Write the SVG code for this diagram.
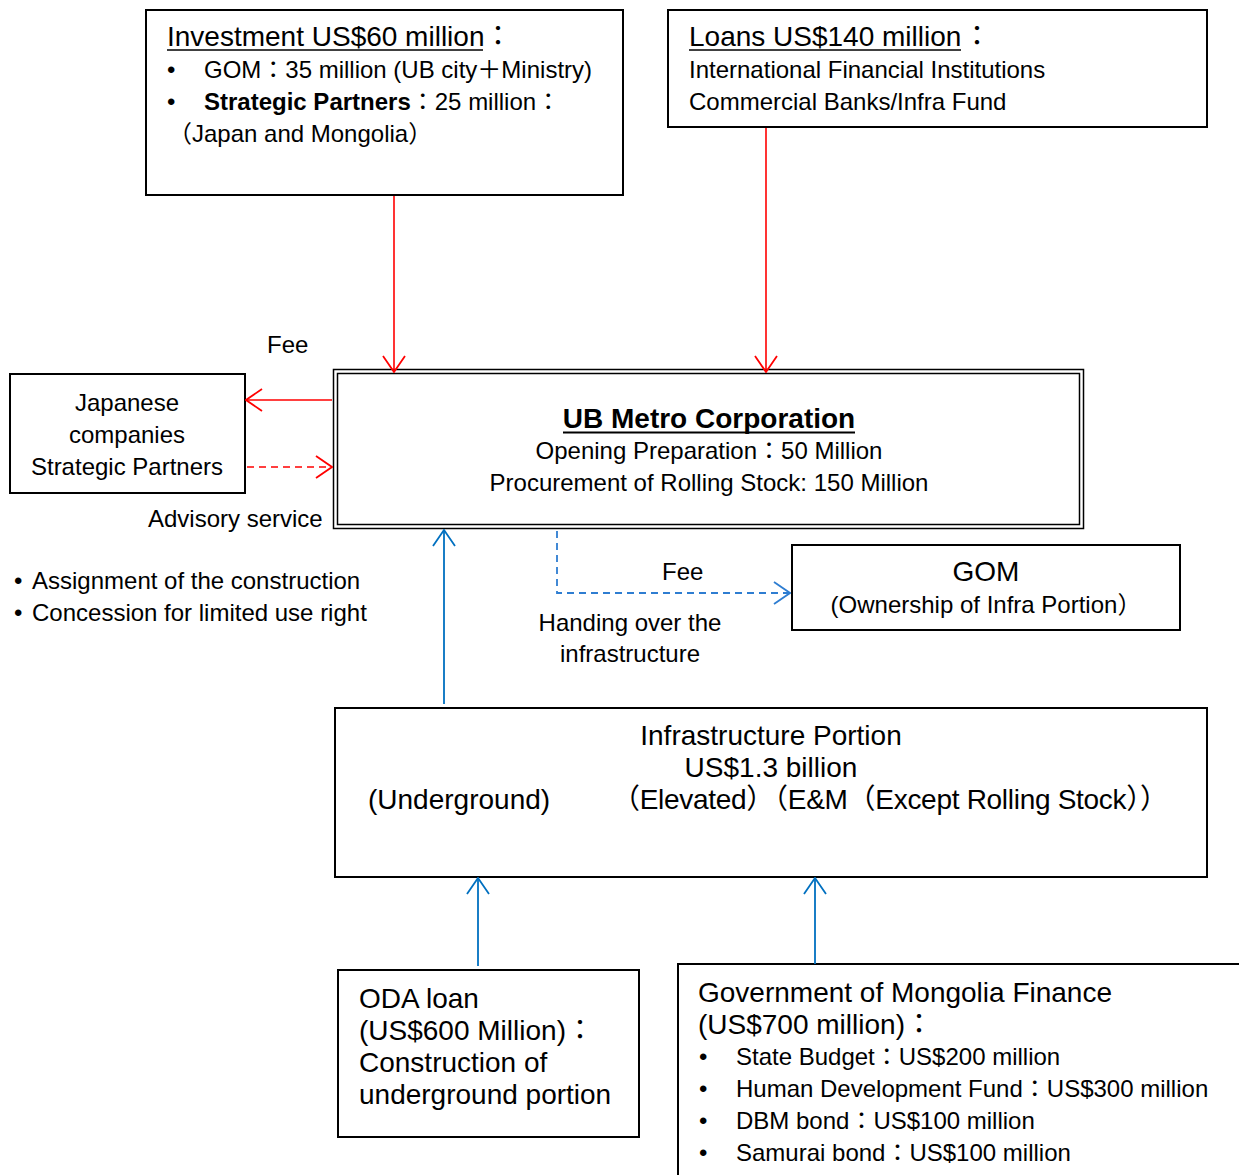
<svg xmlns="http://www.w3.org/2000/svg" width="1239" height="1175" viewBox="0 0 1239 1175">
<style>
text { font-family: "Liberation Sans", "Noto Sans CJK JP", sans-serif; fill: #000; }
.t24 { font-size: 24px; }
.t28 { font-size: 28px; }
.b { font-weight: bold; }
.mid { text-anchor: middle; }
.box { fill: #fff; stroke: #000; stroke-width: 2; }
.dbl { fill: none; stroke: #000; stroke-width: 1.5; }
.ul { stroke: #000; stroke-width: 1.6; }
.red { stroke: #ff0000; stroke-width: 1.6; fill: none; }
.blue { stroke: #0070c0; stroke-width: 1.8; fill: none; }
.bdash { stroke: #2e7dd1; stroke-width: 1.8; fill: none; stroke-dasharray: 7 5; }
.rdash { stroke: #ff0000; stroke-width: 1.6; fill: none; stroke-dasharray: 7 5; }
</style>
<defs>
<marker id="ar" viewBox="0 0 18 24" refX="17" refY="12" markerWidth="18" markerHeight="24" markerUnits="userSpaceOnUse" orient="auto">
<path d="M1,1 L17,12 L1,23" fill="none" stroke="#ff0000" stroke-width="1.8"/>
</marker>
<marker id="ab" viewBox="0 0 18 24" refX="17" refY="12" markerWidth="18" markerHeight="24" markerUnits="userSpaceOnUse" orient="auto">
<path d="M1,1 L17,12 L1,23" fill="none" stroke="#0070c0" stroke-width="1.8"/>
</marker>
<marker id="abd" viewBox="0 0 18 24" refX="17" refY="12" markerWidth="18" markerHeight="24" markerUnits="userSpaceOnUse" orient="auto">
<path d="M1,1 L17,12 L1,23" fill="none" stroke="#2e7dd1" stroke-width="1.8"/>
</marker>
</defs>
<rect width="1239" height="1175" fill="#fff"/>

<g id="investment">
<rect class="box" x="146" y="10" width="477" height="185"/>
<text class="t28" x="167" y="46">Investment US$60 million<tspan x="484">：</tspan></text>
<line class="ul" x1="167" y1="50" x2="483" y2="50"/>
<text class="t24" x="167" y="78">•<tspan x="204">GOM：35 million (UB city＋Ministry)</tspan></text>
<text class="t24" x="167" y="110">•<tspan x="204" class="b">Strategic Partners</tspan>：25 million：</text>
<text class="t24" x="168" y="142">（Japan and Mongolia）</text>
</g>

<g id="loans">
<rect class="box" x="668" y="10" width="539" height="117"/>
<text class="t28" x="689" y="46">Loans US$140 million<tspan x="963">：</tspan></text>
<line class="ul" x1="689" y1="50" x2="961" y2="50"/>
<text class="t24" x="689" y="78">International Financial Institutions</text>
<text class="t24" x="689" y="110">Commercial Banks/Infra Fund</text>
</g>

<g id="japanese">
<rect class="box" x="10" y="374" width="235" height="119"/>
<text class="t24 mid" x="127" y="411">Japanese</text>
<text class="t24 mid" x="127" y="443">companies</text>
<text class="t24 mid" x="127" y="475">Strategic Partners</text>
</g>

<g id="ubmetro">
<rect fill="#fff" class="dbl" x="333.5" y="369.5" width="750" height="159"/>
<rect class="dbl" x="337.5" y="373.5" width="742" height="151"/>
<text class="t28 b mid" x="709" y="428">UB Metro Corporation</text>
<line x1="563" y1="432.5" x2="855" y2="432.5" stroke="#000" stroke-width="2.2"/>
<text class="t24 mid" x="709" y="459">Opening Preparation：50 Million</text>
<text class="t24 mid" x="709" y="491">Procurement of Rolling Stock: 150 Million</text>
</g>

<g id="gom">
<rect class="box" x="792" y="545" width="388" height="85"/>
<text class="t28 mid" x="986" y="581">GOM</text>
<text class="t24 mid" x="986" y="613">(Ownership of Infra Portion）</text>
</g>

<g id="infra">
<rect class="box" x="335" y="708" width="872" height="169"/>
<text class="t28 mid" x="771" y="745">Infrastructure Portion</text>
<text class="t28 mid" x="771" y="777">US$1.3 billion</text>
<text class="t28" x="368" y="809">(Underground)</text>
<text class="t28" x="612" y="809" textLength="556" lengthAdjust="spacing">（Elevated）（E&amp;M（Except Rolling Stock））</text>
</g>

<g id="oda">
<rect class="box" x="338" y="970" width="301" height="167"/>
<text class="t28" x="359" y="1008">ODA loan</text>
<text class="t28" x="359" y="1040">(US$600 Million)：</text>
<text class="t28" x="359" y="1072">Construction of</text>
<text class="t28" x="359" y="1104">underground portion</text>
</g>

<g id="gomfinance">
<path d="M678,1176 V964 H1240" fill="none" stroke="#000" stroke-width="2"/>
<text class="t28" x="698" y="1002">Government of Mongolia Finance</text>
<text class="t28" x="698" y="1034">(US$700 million)：</text>
<text class="t24" x="699" y="1065">•<tspan x="736">State Budget：US$200 million</tspan></text>
<text class="t24" x="699" y="1097">•<tspan x="736">Human Development Fund：US$300 million</tspan></text>
<text class="t24" x="699" y="1129">•<tspan x="736">DBM bond：US$100 million</tspan></text>
<text class="t24" x="699" y="1161">•<tspan x="736">Samurai bond：US$100 million</tspan></text>
</g>

<g id="labels">
<text class="t24" x="267" y="353">Fee</text>
<text class="t24" x="148" y="527">Advisory service</text>
<text class="t24" x="14" y="589">•<tspan x="32">Assignment of the construction</tspan></text>
<text class="t24" x="14" y="621">•<tspan x="32">Concession for limited use right</tspan></text>
<text class="t24" x="662" y="580">Fee</text>
<text class="t24 mid" x="630" y="631">Handing over the</text>
<text class="t24 mid" x="630" y="662">infrastructure</text>
</g>

<g id="connectors">
<line class="red" x1="394" y1="196" x2="394" y2="372" marker-end="url(#ar)"/>
<line class="red" x1="766" y1="128" x2="766" y2="372" marker-end="url(#ar)"/>
<line class="red" x1="332" y1="400" x2="246" y2="400" marker-end="url(#ar)"/>
<line class="rdash" x1="247" y1="467" x2="332" y2="467" marker-end="url(#ar)"/>
<line class="blue" x1="444" y1="704" x2="444" y2="530" marker-end="url(#ab)"/>
<polyline class="bdash" points="557,531 557,593 790,593" marker-end="url(#abd)"/>
<line class="blue" x1="478" y1="966" x2="478" y2="878" marker-end="url(#ab)"/>
<line class="blue" x1="815" y1="964" x2="815" y2="878" marker-end="url(#ab)"/>
</g>
</svg>
